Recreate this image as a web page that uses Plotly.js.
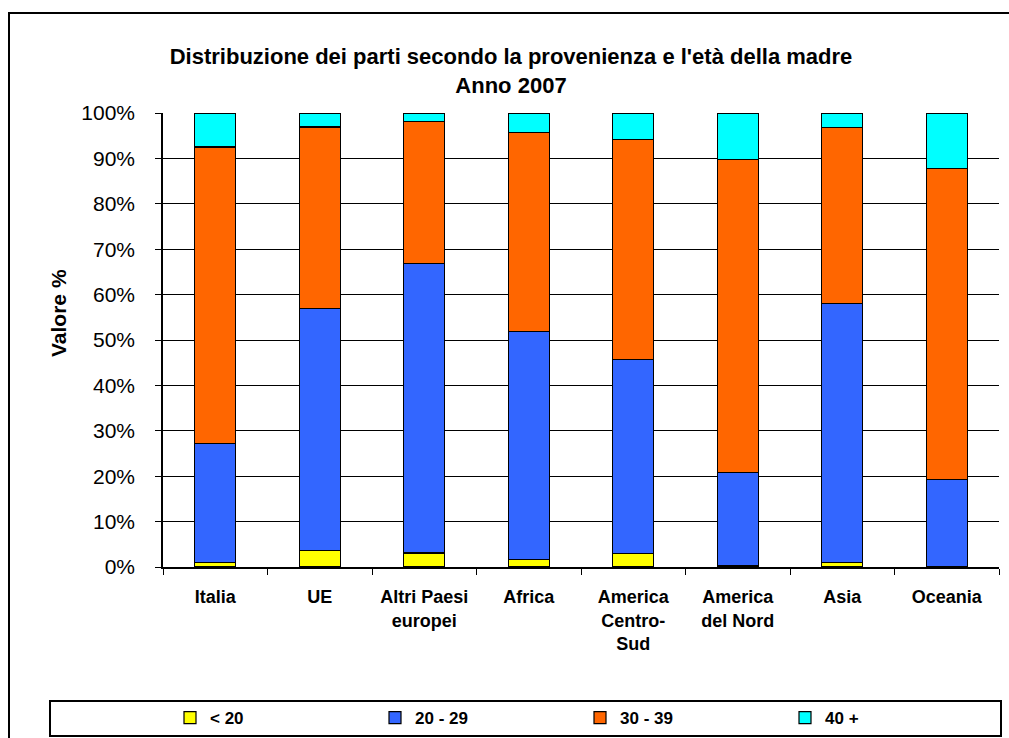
<!DOCTYPE html>
<html>
<head>
<meta charset="utf-8">
<script src="https://cdn.plot.ly/plotly-3.0.1.min.js"></script>
<style>
  html, body { margin: 0; padding: 0; background: #fff; }
  #chart { width: 1009px; height: 738px; }
</style>
</head>
<body>
<div id="chart"></div>
<script>
// Categories (origin of the mother)
const categories = ["Italia", "UE", "Altri Paesi<br>europei", "Africa", "America<br>Centro-<br>Sud", "America<br>del Nord", "Asia", "Oceania"];
// Series values (% of births by age of mother)
const seriesNames = ["< 20", "20 - 29", "30 - 39", "40 +"];
const under20   = [1.0, 3.7, 3.1, 1.7, 3.0, 0.3, 1.0, 0.0];
const age20_29  = [26.2, 53.2, 63.7, 50.1, 42.7, 20.6, 57.0, 19.2];
const age30_39  = [65.3, 40.0, 31.4, 43.9, 48.5, 68.9, 38.8, 68.6];
const age40plus = [7.5, 3.1, 1.8, 4.3, 5.8, 10.2, 3.2, 12.2];
const colors = ["#FFFF00", "#3366FF", "#FF6600", "#00FFFF"];
const yTickVals = [0, 10, 20, 30, 40, 50, 60, 70, 80, 90, 100];

const FONT = "Arial, 'Liberation Sans', sans-serif";
const values = [under20, age20_29, age30_39, age40plus];

const traces = values.map((v, i) => ({
  type: "bar",
  name: seriesNames[i],
  x: categories,
  y: v,
  marker: { color: colors[i], line: { color: "#000", width: 1.2 } },
  hoverinfo: "x+y+name"
}));

// pixel helpers for paper coordinates
const L = 163, R = 10, T = 113, B = 171, W = 1009, H = 738;
const pw = W - L - R, ph = H - T - B;
const px = x => (x - L) / pw;
const py = y => (H - B - y) / ph;

const layout = {
  width: W, height: H,
  margin: { l: L, r: R, t: T, b: B, pad: 0, autoexpand: false },
  paper_bgcolor: "#fff",
  plot_bgcolor: "#fff",
  barmode: "stack",
  bargap: 0.61,
  font: { family: FONT, color: "#000" },
  title: {
    text: "Distribuzione dei parti secondo la provenienza e l'età della madre<br>Anno 2007",
    font: { family: FONT, size: 22, color: "#000", weight: "bold" },
    xref: "container", x: 511 / W, xanchor: "center",
    yref: "container", y: 1 - 64 / H, yanchor: "top"
  },
  xaxis: {
    type: "category",
    showgrid: false,
    showline: true, linecolor: "#000", linewidth: 1.5,
    ticks: "outside", tickson: "boundaries", ticklen: 6, tickcolor: "#000", tickwidth: 1.2,
    ticklabelstandoff: 13,
    tickfont: { family: FONT, size: 18, color: "#000", weight: "bold" },
    fixedrange: true
  },
  yaxis: {
    range: [0, 100],
    tickvals: yTickVals,
    ticktext: yTickVals.map(v => v + "%"),
    showgrid: true, gridcolor: "#000", gridwidth: 1.3,
    showline: true, linecolor: "#000", linewidth: 1.5,
    zeroline: false,
    ticks: "outside", ticklen: 6, tickcolor: "#000", tickwidth: 1.2,
    ticklabelstandoff: 16,
    tickfont: { family: FONT, size: 21, color: "#000" },
    fixedrange: true
  },
  showlegend: true,
  legend: {
    orientation: "h",
    xref: "container",
    x: 170 / W, xanchor: "left",
    y: py(718), yanchor: "middle",
    entrywidth: 160,
    traceorder: "normal",
    bgcolor: "rgba(0,0,0,0)",
    borderwidth: 0,
    font: { family: FONT, size: 17, color: "#000", weight: "bold" }
  },
  annotations: [{
    text: "<b>Valore %</b>",
    xref: "paper", yref: "paper",
    x: px(58), y: py(313),
    xanchor: "center", yanchor: "middle",
    textangle: -90, showarrow: false,
    font: { family: FONT, size: 21, color: "#000" }
  }],
  shapes: [
    { type: "rect", xref: "paper", yref: "paper", layer: "below",
      x0: px(9), x1: px(1020), y0: py(750), y1: py(13),
      line: { color: "#000", width: 2 }, fillcolor: "rgba(0,0,0,0)" },
    { type: "rect", xref: "paper", yref: "paper", layer: "below",
      x0: px(50), x1: px(1001), y0: py(736), y1: py(701),
      line: { color: "#000", width: 2 }, fillcolor: "rgba(0,0,0,0)" }
  ]
};

Plotly.newPlot("chart", traces, layout, { displayModeBar: false });
</script>
</body>
</html>
